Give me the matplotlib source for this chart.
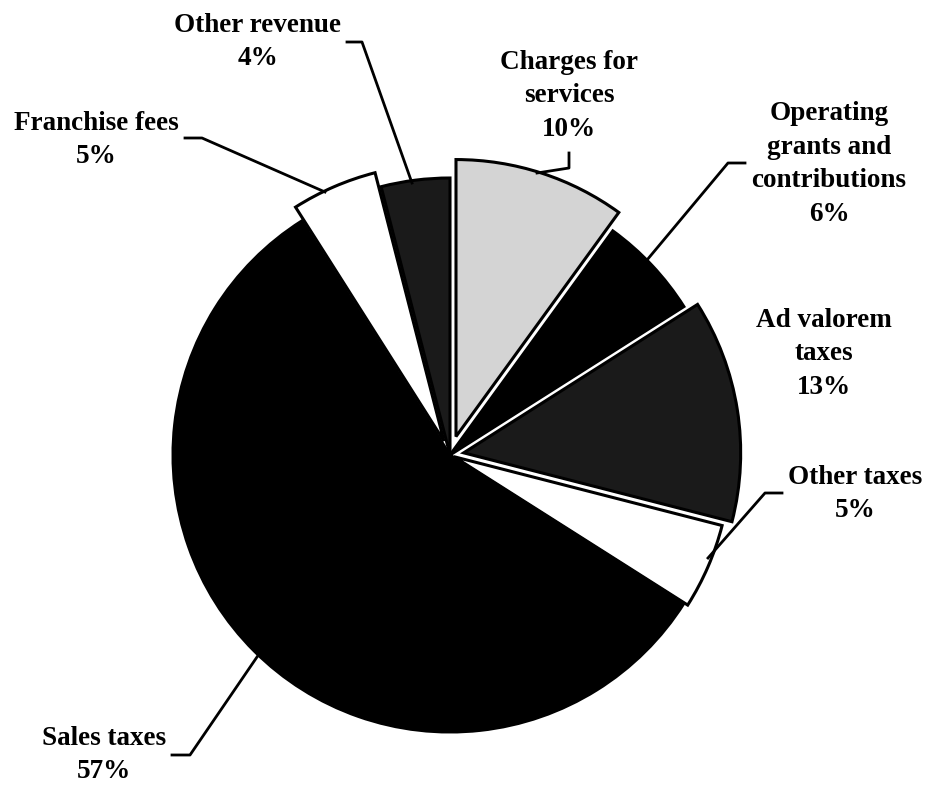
import matplotlib
matplotlib.use("Agg")
import matplotlib.pyplot as plt

# slices, clockwise from 12 o'clock
labels = ["Charges for\nservices", "Operating\ngrants and\ncontributions", "Ad valorem\ntaxes",
          "Other taxes", "Sales taxes", "Franchise fees", "Other revenue"]
shares = [10, 6, 13, 5, 57, 5, 4]
explode = [0.07, 0.0, 0.05, 0.015, 0.0, 0.055, 0.0]
fills = ["#d4d4d4", "#000000", "#1a1a1a", "#ffffff", "#000000", "#ffffff", "#1a1a1a"]

W, H = 928, 786
CX, CY, R = 450, 455, 277

# label centre, leader line (pixel coords, y down)
label_pos = [(569, 96), (829, 164), (824, 354), (855, 494), (104, 755), (96, 140), (258, 42)]
leaders = [
    [(569, 153), (569, 168), (537, 173)],
    [(745, 163), (728, 163), (647, 260)],
    None,
    [(782, 493), (765, 493), (708, 558)],
    [(172, 755), (190, 755), (257, 657)],
    [(185, 138), (202, 138), (325, 192)],
    [(347, 42), (362, 42), (412, 183)],
]


def px(x, y):
    return x, H - y


fig = plt.figure(figsize=(W / 100, H / 100), dpi=100)
ax = fig.add_axes([0, 0, 1, 1])

# pie's explode is in data units, so scale it by the radius
wedges, _ = ax.pie(shares, explode=[e * R for e in explode], colors=fills, startangle=90,
                   counterclock=False, center=px(CX, CY), radius=R, frame=True,
                   wedgeprops=dict(edgecolor="black", linewidth=2.2, joinstyle="miter"))
ax.set_xlim(0, W)
ax.set_ylim(0, H)
ax.set_aspect("equal")
ax.axis("off")

for lab, val, (lx, ly), line in zip(labels, shares, label_pos, leaders):
    ax.text(*px(lx, ly), lab + "\n" + str(val) + "%", ha="center", va="center",
            family="Liberation Serif", fontweight="bold", fontsize=19.5, linespacing=1.45)
    if line:
        xs, ys = zip(*[px(x, y) for x, y in line])
        ax.plot(xs, ys, color="black", lw=2)

fig.savefig("out.png", dpi=100)
